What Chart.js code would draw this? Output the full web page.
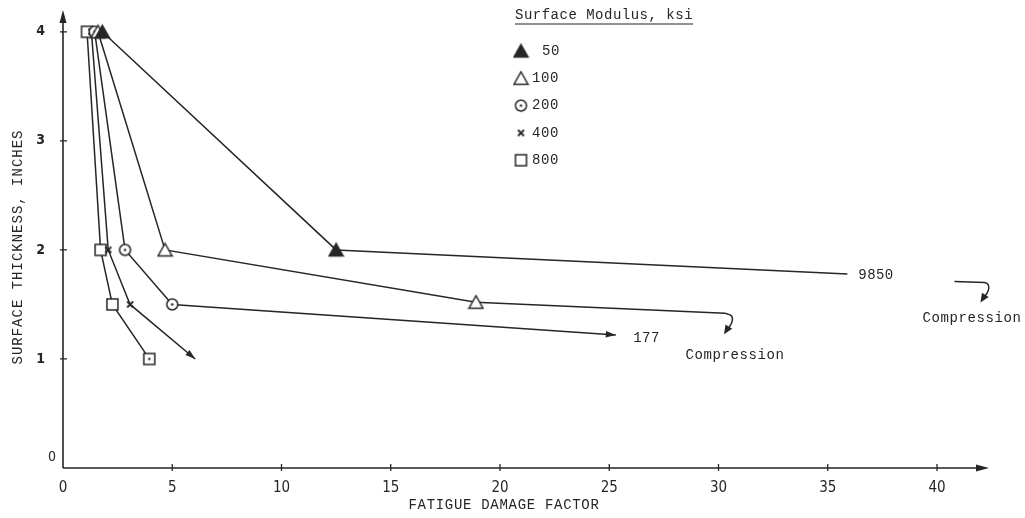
<!DOCTYPE html>
<html>
<head>
<meta charset="utf-8">
<title>Fatigue damage factor vs surface thickness</title>
<script src="https://cdn.jsdelivr.net/npm/chart.js@4/dist/chart.umd.min.js"></script>
<style>
  html, body { margin: 0; padding: 0; background: #fff; }
  #wrap { width: 1025px; height: 518px; }
</style>
</head>
<body>
<div id="wrap"><canvas id="chart" width="1025" height="518"></canvas></div>
<script>
// --- data ---
const xTicks = [0, 5, 10, 15, 20, 25, 30, 35, 40];
const yTicks = [0, 1, 2, 3, 4];

// surface modulus 50 ksi (filled triangle), last point = line running off toward 9850
const fdf50 = [1.8, 12.5, 35.9];
const thk50 = [4, 2, 1.78];
// 100 ksi (open triangle), ends in compression
const fdf100 = [1.6, 4.67, 18.9, 30.3];
const thk100 = [4, 2, 1.52, 1.42];
// 200 ksi (circle), arrow toward 177
const fdf200 = [1.45, 2.84, 5.0, 25.3];
const thk200 = [4, 2, 1.5, 1.22];
// 400 ksi (x)
const fdf400 = [1.3, 2.07, 3.07, 6.05];
const thk400 = [4, 2, 1.5, 1.0];
// 800 ksi (square)
const fdf800 = [1.1, 1.72, 2.26, 3.95];
const thk800 = [4, 2, 1.5, 1.0];

const legendLabels = ['50', '100', '200', '400', '800'];

const INK = '#262626';
const MONO = '"Liberation Mono", "DejaVu Sans Mono", monospace';
const NARROW = '"DejaVu Sans Condensed", "Liberation Sans Narrow", "Liberation Sans", sans-serif';

// ---- marker images ----
function makeMarker(kind) {
    const c = document.createElement('canvas');
    const s = kind.indexOf('tri') === 0 ? 17 : 15;
    c.width = s; c.height = s;
    const g = c.getContext('2d');
    g.strokeStyle = INK;
    g.fillStyle = '#fff';
    g.lineWidth = 1.5;
    const m = s / 2;
    if (kind === 'triFilled' || kind === 'triOpen') {
        g.beginPath();
        g.moveTo(m, 2);
        g.lineTo(s - 1.5, s - 2.5);
        g.lineTo(1.5, s - 2.5);
        g.closePath();
        if (kind === 'triFilled') { g.fillStyle = INK; }
        g.fill();
        g.stroke();
    } else if (kind === 'circle') {
        g.beginPath();
        g.arc(m, m, 5.5, 0, Math.PI * 2);
        g.fill(); g.stroke();
        g.beginPath();
        g.fillStyle = INK;
        g.arc(m, m, 1.2, 0, Math.PI * 2);
        g.fill();
    } else if (kind === 'square' || kind === 'squareDot') {
        g.beginPath();
        g.rect(2, 2, s - 4, s - 4);
        g.fill(); g.stroke();
        if (kind === 'squareDot') {
            g.beginPath();
            g.fillStyle = INK;
            g.arc(m, m, 1.2, 0, Math.PI * 2);
            g.fill();
        }
    } else if (kind === 'cross') {
        g.lineWidth = 1.8;
        g.beginPath();
        g.moveTo(m - 3, m - 3); g.lineTo(m + 3, m + 3);
        g.moveTo(m + 3, m - 3); g.lineTo(m - 3, m + 3);
        g.stroke();
    }
    return c;
}

const mk = {
    triFilled: makeMarker('triFilled'),
    triOpen: makeMarker('triOpen'),
    circle: makeMarker('circle'),
    cross: makeMarker('cross'),
    square: makeMarker('square'),
    squareDot: makeMarker('squareDot')
};
const legendMarkers = [mk.triFilled, mk.triOpen, mk.circle, mk.cross, mk.square];

function series(xs, ys, styles, radii) {
    return {
        data: xs.map((x, i) => ({ x: x, y: ys[i] })),
        showLine: true,
        borderColor: INK,
        borderWidth: 1.5,
        pointStyle: styles,
        pointRadius: radii,
        pointHoverRadius: radii,
        fill: false,
        tension: 0
    };
}

// ---- helpers for drawing ----
function arrowHead(ctx, x, y, ang, len, half) {
    ctx.save();
    ctx.translate(x, y);
    ctx.rotate(ang);
    ctx.beginPath();
    ctx.moveTo(0, 0);
    ctx.lineTo(-len, -half);
    ctx.lineTo(-len, half);
    ctx.closePath();
    ctx.fill();
    ctx.restore();
}

function curl(ctx, x0, y0, run) {
    // horizontal stroke that hooks downward into an arrow
    const x1 = x0 + run;
    ctx.beginPath();
    ctx.moveTo(x0, y0);
    ctx.lineTo(x1, y0 + 1);
    ctx.bezierCurveTo(x1 + 7, y0 + 2, x1 + 5, y0 + 11, x1 - 2, y0 + 17);
    ctx.stroke();
    arrowHead(ctx, x1 - 4, y0 + 21, Math.PI * 0.68, 9, 4);
}

function spacedText(ctx, txt, x, y, spacing, align) {
    ctx.save();
    ctx.letterSpacing = spacing + 'px';
    ctx.textAlign = align || 'left';
    ctx.fillText(txt, x, y);
    ctx.restore();
}

const decor = {
    id: 'decor',
    afterDatasetsDraw(chart) {
        const ctx = chart.ctx;
        const xs = chart.scales.x, ys = chart.scales.y;
        const a = chart.chartArea;
        const x0 = xs.getPixelForValue(0), y0 = ys.getPixelForValue(0);
        ctx.save();
        ctx.strokeStyle = INK;
        ctx.fillStyle = INK;
        ctx.lineWidth = 1.6;

        // axes with arrow heads
        ctx.beginPath();
        ctx.moveTo(x0, y0); ctx.lineTo(x0, a.top + 6);
        ctx.moveTo(x0, y0); ctx.lineTo(a.right - 6, y0);
        ctx.stroke();
        arrowHead(ctx, x0, a.top, -Math.PI / 2, 13, 3.5);
        arrowHead(ctx, a.right, y0, 0, 13, 3.5);

        // crossing tick marks
        ctx.lineWidth = 1.3;
        ctx.beginPath();
        xTicks.forEach(v => {
            if (v === 0) return;
            const px = xs.getPixelForValue(v);
            ctx.moveTo(px, y0 - 4); ctx.lineTo(px, y0 + 3);
        });
        yTicks.forEach(v => {
            if (v === 0) return;
            const py = ys.getPixelForValue(v);
            ctx.moveTo(x0 - 3, py); ctx.lineTo(x0 + 4, py);
        });
        ctx.stroke();

        // zero on the y axis sits just above the origin
        ctx.font = '14px ' + NARROW;
        ctx.textAlign = 'center';
        ctx.textBaseline = 'middle';
        ctx.fillText('0', x0 - 11, y0 - 11);

        // axis titles
        ctx.font = '14px ' + MONO;
        spacedText(ctx, 'FATIGUE DAMAGE FACTOR', 504, 505, 0.7, 'center');
        ctx.save();
        ctx.translate(18, 247);
        ctx.rotate(-Math.PI / 2);
        spacedText(ctx, 'SURFACE THICKNESS, INCHES', 0, 0, 1.0, 'center');
        ctx.restore();

        // arrow heads at ends of open-ended lines
        [[fdf200, thk200], [fdf400, thk400]].forEach(([fx, ty]) => {
            const n = fx.length;
            const px1 = xs.getPixelForValue(fx[n - 1]), py1 = ys.getPixelForValue(ty[n - 1]);
            const px0 = xs.getPixelForValue(fx[n - 2]), py0 = ys.getPixelForValue(ty[n - 2]);
            arrowHead(ctx, px1, py1, Math.atan2(py1 - py0, px1 - px0), 10, 3.2);
        });

        // compression hooks
        ctx.lineWidth = 1.5;
        curl(ctx, xs.getPixelForValue(fdf100[3]), ys.getPixelForValue(thk100[3]), 3);
        curl(ctx, xs.getPixelForValue(40.8), ys.getPixelForValue(1.71), 30);

        // annotations
        ctx.font = '14px ' + MONO;
        ctx.textBaseline = 'middle';
        spacedText(ctx, '9850', xs.getPixelForValue(36.4), ys.getPixelForValue(1.77), 0.4, 'left');
        spacedText(ctx, '177', xs.getPixelForValue(26.1), ys.getPixelForValue(1.19), 0.4, 'left');
        spacedText(ctx, 'Compression', xs.getPixelForValue(30.75), ys.getPixelForValue(1.03), 0.6, 'center');
        spacedText(ctx, 'Compression', xs.getPixelForValue(41.6), ys.getPixelForValue(1.37), 0.6, 'center');

        // legend
        ctx.font = '14px ' + MONO;
        ctx.textBaseline = 'middle';
        spacedText(ctx, 'Surface Modulus, ksi', 515, 15, 0.5, 'left');
        ctx.lineWidth = 1.2;
        ctx.beginPath();
        ctx.moveTo(515, 24); ctx.lineTo(693, 24);
        ctx.stroke();
        legendLabels.forEach((lab, i) => {
            const ly = 51 + i * 27.3;
            const img = legendMarkers[i];
            ctx.drawImage(img, 521 - img.width / 2, ly - img.height / 2);
            spacedText(ctx, lab, i === 0 ? 542 : 532, ly, 0.6, 'left');
        });
        ctx.restore();
    }
};

new Chart(document.getElementById('chart'), {
    type: 'scatter',
    data: {
        datasets: [
            series(fdf50, thk50, [mk.triFilled, mk.triFilled, mk.triFilled], [6, 6, 0]),
            series(fdf100, thk100, [mk.triOpen, mk.triOpen, mk.triOpen, mk.triOpen], [6, 6, 6, 0]),
            series(fdf200, thk200, [mk.circle, mk.circle, mk.circle, mk.circle], [6, 6, 6, 0]),
            series(fdf400, thk400, [mk.cross, mk.cross, mk.cross, mk.cross], [4, 4, 4, 0]),
            series(fdf800, thk800, [mk.square, mk.square, mk.square, mk.squareDot], [6, 6, 6, 6])
        ]
    },
    options: {
        responsive: false,
        animation: false,
        events: [],
        layout: { padding: { left: 0, right: 36, top: 10, bottom: 0 } },
        plugins: { legend: { display: false }, tooltip: { enabled: false } },
        scales: {
            x: {
                type: 'linear',
                min: 0,
                max: 42.38,
                afterBuildTicks: s => { s.ticks = xTicks.map(v => ({ value: v })); },
                afterFit: s => { s.height = 50; s.paddingLeft = 0; s.paddingRight = 0; },
                grid: { display: false, drawTicks: false },
                border: { display: false },
                ticks: {
                    padding: 11,
                    color: INK,
                    font: { family: NARROW, size: 15 },
                    maxRotation: 0
                }
            },
            y: {
                type: 'linear',
                min: 0,
                max: 4.2,
                afterBuildTicks: s => { s.ticks = yTicks.map(v => ({ value: v })); },
                afterFit: s => { s.width = 63; s.paddingTop = 0; s.paddingBottom = 0; },
                grid: { display: false, drawTicks: false },
                border: { display: false },
                ticks: {
                    padding: 18,
                    color: INK,
                    font: { family: NARROW, size: 14, weight: 'bold' },
                    callback: v => (v === 0 ? '' : String(v))
                }
            }
        }
    },
    plugins: [decor]
});
</script>
</body>
</html>
